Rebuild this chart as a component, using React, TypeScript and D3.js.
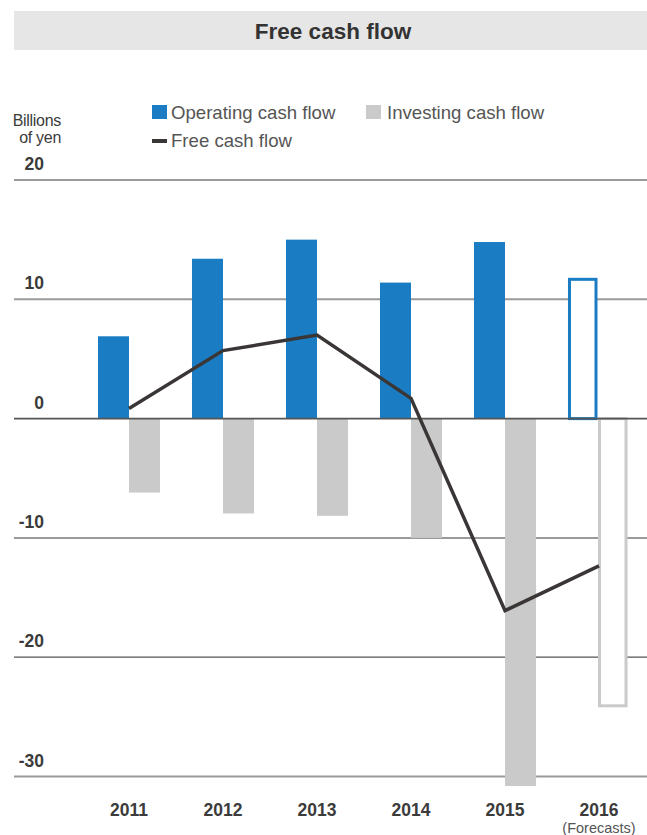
import React from 'react';
import * as d3 from 'd3';

// Values (billions of yen)
const years = ['2011', '2012', '2013', '2014', '2015', '2016'];
const operatingCF = [6.9, 13.4, 15.0, 11.4, 14.8, 11.8];
const investingCF = [-6.2, -7.95, -8.15, -10.0, -30.8, -24.2];
const freeCF = [0.85, 5.7, 7.0, 1.7, -16.1, -12.35];
const isForecast = [false, false, false, false, false, true];
const yTicks = [20, 10, 0, -10, -20, -30];
const seriesKeys = ['operating', 'investing'];

const W = 647;
const H = 835;
const BLUE = '#1a7dc4';
const GREY = '#c9cac9';
const LINE = '#3a3636';
const TEXT = '#3b3b3b';
const SANS = '"Liberation Sans", Arial, Helvetica, sans-serif';
const NARROW = '"Liberation Sans Narrow", "Arial Narrow", "Liberation Sans", Arial, sans-serif';

const App: React.FC = () => {
  const y = d3.scaleLinear().domain([-30, 20]).range([776.5, 180]);
  const x = d3.scaleBand<string>()
    .domain(years)
    .range([82, 646])
    .paddingInner(0.34)
    .paddingOuter(0.17);
  const xs = d3.scaleBand<string>().domain(seriesKeys).range([0, x.bandwidth()]);

  const linePath = d3.line<number>()
    .x((_d, i) => (x(years[i]) ?? 0) + x.bandwidth() / 2)
    .y(d => y(d))(freeCF) ?? '';

  const gridColor = (t: number) => (t === 0 || t === -20 ? '#555' : '#9a9a9a');
  const gridWidth = (t: number) => (t === 0 ? 1.8 : t === -20 ? 1.3 : 2);

  const bar = (i: number, key: string, value: number) => {
    const x0 = (x(years[i]) ?? 0) + (xs(key) ?? 0);
    const y0 = y(0);
    const yv = y(value);
    const color = key === 'operating' ? BLUE : GREY;
    if (isForecast[i]) {
      // forecast bars are outlined, slightly narrower
      const sw = 3;
      const outerX = key === 'operating' ? x0 : x0 - 1;
      const outerW = xs.bandwidth() - 1.5;
      const top = Math.min(y0, yv);
      const h = Math.abs(yv - y0);
      return (
        <rect key={key + i} x={outerX + sw / 2} y={top + (value > 0 ? sw / 2 : 0)}
          width={outerW - sw} height={h - sw / 2}
          fill="#fff" stroke={color} strokeWidth={sw} />
      );
    }
    return (
      <rect key={key + i} x={x0} y={Math.min(y0, yv)} width={xs.bandwidth()}
        height={Math.abs(yv - y0)} fill={color} />
    );
  };

  return (
    <svg width={W} height={H} style={{ position: 'absolute', left: 0, top: 0, background: '#fff' }}>
      {/* title banner */}
      <rect x={14} y={11} width={W - 14} height={39} fill="#e6e6e6" />
      <text x={333} y={38.5} textAnchor="middle" fontFamily={SANS} fontWeight="bold"
        fontSize={22.5} fill="#333">Free cash flow</text>

      {/* unit label */}
      <text x={61} y={126} textAnchor="end" fontFamily={SANS} fontSize={16} fill={TEXT}
        letterSpacing={-0.3}>Billions</text>
      <text x={61} y={143} textAnchor="end" fontFamily={SANS} fontSize={16} fill={TEXT}
        letterSpacing={-0.3}>of yen</text>

      {/* legend */}
      <rect x={152} y={105} width={15} height={14} fill={BLUE} />
      <text x={171} y={119} fontFamily={SANS} fontSize={18.6} fill="#555">Operating cash flow</text>
      <rect x={366} y={105} width={15} height={14} fill={GREY} />
      <text x={387} y={119} fontFamily={SANS} fontSize={18.6} fill="#555">Investing cash flow</text>
      <rect x={152} y={139} width={15} height={4} fill={LINE} />
      <text x={171} y={147} fontFamily={SANS} fontSize={18.6} fill="#555">Free cash flow</text>

      {/* grid + y labels */}
      {yTicks.filter(t => t !== 0).map(t => (
        <line key={'g' + t} x1={14} x2={W} y1={y(t)} y2={y(t)}
          stroke={gridColor(t)} strokeWidth={gridWidth(t)} />
      ))}
      {yTicks.map(t => (
        <text key={'t' + t} x={44} y={y(t) - 10} textAnchor="end" fontFamily={NARROW}
          fontWeight="bold" fontSize={17.5} fill={TEXT}>{t}</text>
      ))}

      {/* bars */}
      {years.map((_yr, i) => bar(i, 'operating', operatingCF[i]))}
      {years.map((_yr, i) => bar(i, 'investing', investingCF[i]))}

      {/* zero line */}
      <line x1={14} x2={W} y1={y(0)} y2={y(0)} stroke={gridColor(0)} strokeWidth={gridWidth(0)} />

      {/* free cash flow line */}
      <path d={linePath} fill="none" stroke={LINE} strokeWidth={3.5} strokeLinejoin="miter" />

      {/* x labels */}
      {years.map(yr => (
        <text key={'x' + yr} x={(x(yr) ?? 0) + x.bandwidth() / 2} y={816} textAnchor="middle"
          fontFamily={NARROW} fontWeight="bold" fontSize={17.5} fill={TEXT}>{yr}</text>
      ))}
      <text x={(x('2016') ?? 0) + x.bandwidth() / 2} y={833} textAnchor="middle"
        fontFamily={NARROW} fontSize={14.5} fill="#555">(Forecasts)</text>
    </svg>
  );
};

export default App;
